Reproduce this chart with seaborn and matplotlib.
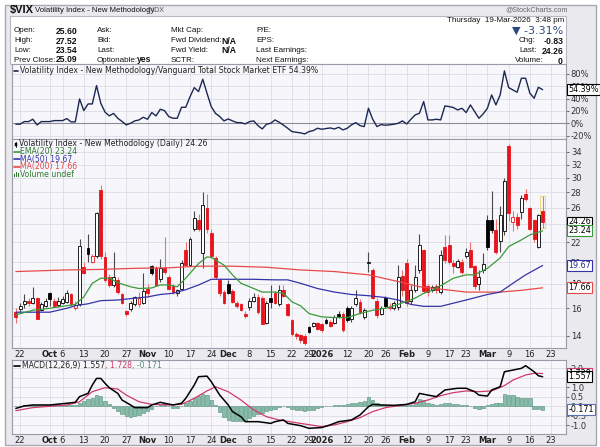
import numpy as np
import pandas as pd
import matplotlib
matplotlib.use("Agg")
import matplotlib.pyplot as plt
import seaborn as sns
from matplotlib.patches import Rectangle
from matplotlib.lines import Line2D

# ---------------- data ----------------
first_day = "2025-09-19"
holidays = ["2025-11-27", "2025-12-25", "2026-01-01", "2026-01-19", "2026-02-16"]

opens = [15.7, 15.95, 16.3, 16.6, 16.4, 16.8, 15.9, 16.2, 17.2, 16.6,
         16.25, 16.4, 16.5, 17.1, 16.0, 16.3, 19.5, 21.4, 20.0, 20.55,
         28.3, 20.5, 18.6, 17.9, 18.3, 17.1, 15.8, 15.95, 16.3, 16.3,
         16.4, 17.6, 19.6, 19.4, 18.4, 19.4, 18.6, 17.8, 17.2, 17.6,
         21.2, 19.7, 23.5, 24.5, 20.9, 25.9, 23.0, 20.4, 18.3, 17.3,
         18.0, 17.4, 16.4, 16.3, 15.55, 16.1, 16.6, 16.9, 16.8, 14.9,
         16.8, 17.2, 16.3, 17.5, 16.3, 15.1, 14.1, 14.05, 14.0, 14.6,
         14.7, 14.9, 14.8, 15.1, 15.0, 14.9, 15.6, 15.6, 16.0, 15.2,
         16.3, 16.5, 15.35, 19.9, 19.25, 16.6, 15.6, 16.85, 16.0, 16.0,
         16.1, 18.7, 19.9, 16.6, 17.5, 19.2, 21.2, 17.8, 17.45, 17.8,
         17.3, 21.5, 21.7, 19.9, 19.55, 20.0, 20.55, 21.2, 19.6, 18.0,
         19.2, 24.5, 24.5, 23.3, 22.1, 23.2, 35.0, 24.3, 24.9, 25.5,
         27.75, 25.9, 24.5, 21.5, 25.60]
highs = [16.0, 16.4, 17.1, 16.8, 17.7, 16.9, 16.5, 16.8, 17.3, 16.8,
         16.9, 17.0, 17.5, 17.2, 16.6, 22.4, 20.0, 22.9, 20.8, 25.4,
         29.0, 21.0, 18.9, 21.0, 18.6, 17.2, 15.9, 16.6, 17.0, 17.3,
         19.0, 18.0, 19.7, 19.6, 20.3, 22.6, 18.8, 18.0, 17.6, 20.2,
         22.0, 22.6, 25.6, 25.2, 28.1, 27.7, 23.5, 20.6, 18.5, 17.5,
         18.3, 17.6, 16.6, 16.4, 15.8, 16.8, 17.2, 17.1, 17.0, 16.6,
         17.9, 17.4, 17.9, 17.9, 16.4, 15.2, 14.3, 14.1, 14.1, 14.7,
         15.0, 15.0, 14.9, 15.3, 15.1, 15.5, 15.8, 15.7, 16.2, 16.2,
         17.5, 16.7, 16.0, 21.0, 19.4, 16.8, 16.2, 17.0, 16.4, 16.6,
         19.7, 19.2, 20.3, 17.9, 19.7, 22.9, 21.3, 18.0, 17.9, 18.0,
         21.2, 22.8, 22.8, 20.2, 20.3, 20.3, 21.4, 22.0, 19.7, 19.2,
         20.9, 25.1, 28.2, 24.6, 26.2, 30.0, 35.3, 25.6, 25.3, 27.6,
         28.5, 26.1, 24.6, 25.2, 27.52]
lows = [14.9, 15.7, 16.0, 16.2, 16.3, 15.2, 15.8, 16.1, 16.2, 16.1,
        16.1, 16.3, 16.4, 16.2, 15.9, 16.2, 18.9, 20.0, 19.9, 20.4,
        20.3, 18.2, 17.7, 17.7, 17.1, 16.3, 15.4, 15.8, 16.2, 16.1,
        16.3, 16.9, 18.8, 17.8, 18.2, 18.9, 17.5, 17.1, 17.0, 17.5,
        19.6, 19.6, 23.2, 23.2, 19.4, 23.0, 20.4, 18.4, 17.0, 16.3,
        17.1, 16.4, 16.0, 15.8, 15.3, 15.9, 16.5, 15.6, 14.8, 14.8,
        16.0, 16.3, 16.2, 16.9, 15.4, 14.0, 13.8, 13.5, 13.4, 14.2,
        14.6, 14.4, 14.3, 14.8, 14.6, 14.8, 15.3, 14.3, 15.0, 15.0,
        16.2, 15.6, 15.2, 19.1, 16.7, 15.3, 15.5, 16.0, 15.9, 15.9,
        15.9, 17.0, 16.2, 16.3, 17.3, 19.0, 17.2, 17.0, 17.3, 17.2,
        17.1, 19.9, 19.8, 19.0, 19.4, 18.9, 20.4, 19.4, 17.6, 17.5,
        19.0, 21.2, 23.0, 20.8, 21.0, 22.8, 24.4, 23.2, 23.5, 24.6,
        26.9, 23.3, 22.0, 21.4, 23.54]
closes = [15.35, 16.2, 16.6, 16.4, 16.8, 15.2, 16.3, 16.6, 16.7, 16.2,
          16.55, 16.7, 17.2, 16.3, 16.25, 21.6, 19.0, 20.8, 20.6, 25.3,
          20.6, 18.3, 17.9, 18.6, 17.3, 16.4, 15.6, 16.4, 16.9, 16.8,
          17.4, 17.2, 19.0, 17.9, 19.4, 19.1, 17.6, 17.3, 17.45, 19.9,
          19.7, 22.4, 24.7, 23.5, 26.3, 23.4, 20.6, 18.6, 17.2, 16.4,
          17.2, 16.5, 16.2, 15.9, 15.4, 16.6, 16.9, 15.7, 14.85, 16.4,
          16.5, 16.4, 17.5, 17.0, 15.5, 14.1, 14.0, 13.7, 13.5, 14.3,
          14.9, 14.5, 14.4, 14.9, 14.7, 15.35, 15.4, 14.4, 15.1, 16.0,
          16.8, 15.7, 15.85, 20.0, 16.8, 15.5, 16.0, 16.15, 16.1, 16.4,
          18.6, 17.5, 16.4, 17.5, 18.6, 21.7, 17.4, 17.3, 17.7, 17.5,
          20.7, 20.2, 20.0, 19.6, 20.05, 19.1, 21.0, 19.55, 17.8, 18.6,
          19.8, 21.5, 23.3, 21.0, 25.1, 29.5, 25.3, 24.9, 23.95, 27.2,
          27.1, 23.5, 22.3, 25.09, 24.26]
prev_close_first = 15.45

ratio_pct = [-1.5, -1.5, 2.7, 2.7, 6.5, -2.7, 2.7, 2.7, 2.7, 4.3,
             4.3, 4.3, 7.6, 2.2, 2.2, 39.4, 20.5, 31.3, 31.3, 61.0,
             32.4, 18.0, 12.0, 16.0, 8.0, 3.0, -2.7, 0.0, 3.8, 5.4,
             9.7, 6.5, 17.3, 11.9, 22.7, 20.5, 10.8, 8.1, 8.1, 25.9,
             25.9, 43.0, 57.8, 51.3, 71.3, 48.6, 27.0, 16.0, 10.8, 3.8,
             7.0, 3.8, 1.1, 1.0, -1.1, 2.7, 3.8, -3.8, -9.2, -1.6,
             0.0, 5.4, 1.6, -3.0, -8.1, -13.5, -14.6, -15.5, -17.3, -13.5,
             -11.9, -8.1, -9.7, -8.6, -7.6, -9.2, -6.5, -10.8, -8.1, -2.7,
             1.1, -3.8, -5.4, 24.3, 6.5, -5.4, -2.2, -3.2, -2.5, -1.6,
             0.0, 3.8, -1.1, 6.5, 13.5, 16.2, 35.1, 5.4, 5.4, 6.5,
             5.4, 28.1, 27.0, 25.4, 21.6, 24.3, 17.3, 29.7, 18.9, 8.1,
             15.1, 24.3, 45.9, 29.7, 45.9, 84.8, 57.8, 54.0, 50.2, 72.9,
             72.9, 48.6, 40.5, 58.3, 54.39]

ema20_idx = [0, 4, 8, 12, 14, 16, 18, 20, 22, 24, 27, 29, 32, 34, 36, 38, 40, 43, 45,
             46, 49, 51, 53, 56, 58, 61, 63, 65, 67, 69, 72, 75, 78, 81, 84, 87, 90,
             94, 96, 98, 101, 103, 106, 108, 111, 114, 116, 119, 121, 123, 124]
ema20_val = [15.5, 15.85, 16.0, 16.2, 16.3, 16.9, 18.05, 18.5, 18.5, 18.1, 17.75, 17.6,
             17.65, 17.9, 17.9, 17.75, 18.5, 19.85, 20.5, 20.45, 19.7, 18.8, 18.05, 17.6,
             17.3, 17.3, 17.2, 16.5, 16.2, 15.6, 15.35, 15.3, 15.3, 15.6, 15.85, 16.0,
             16.3, 16.8, 17.2, 17.45, 18.05, 18.5, 18.8, 18.8, 19.4, 20.4, 21.55, 22.25,
             22.8, 23.1, 23.24]
ma50_idx = [0, 4, 8, 12, 14, 17, 20, 24, 28, 31, 34, 37, 40, 43, 46, 51, 56, 61, 64,
            67, 71, 75, 79, 83, 87, 90, 93, 96, 100, 103, 106, 111, 114, 117, 120, 124]
ma50_val = [15.7, 15.7, 15.7, 16.0, 16.2, 16.35, 16.6, 16.65, 16.8, 16.9, 17.1, 17.2,
            17.5, 17.9, 18.4, 18.4, 18.4, 18.35, 18.35, 18.05, 17.6, 17.3, 17.1, 17.0,
            16.85, 16.65, 16.3, 16.15, 16.15, 16.4, 16.65, 17.1, 17.3, 18.05, 18.8, 19.67]
ma200_idx = [0, 4, 12, 20, 28, 36, 43, 51, 59, 67, 75, 83, 90, 95, 100, 106, 111, 114, 119, 124]
ma200_val = [19.1, 19.15, 19.25, 19.3, 19.4, 19.45, 19.6, 19.6, 19.5, 19.25, 19.1, 18.8,
             18.2, 17.75, 17.55, 17.3, 17.3, 17.3, 17.45, 17.66]

macd_idx = [0, 2, 4, 8, 12, 14, 15, 17, 18, 19, 20, 21, 22, 24, 25, 27, 28, 31, 32, 34,
            35, 37, 39, 40, 42, 43, 45, 46, 48, 50, 51, 53, 54, 57, 58, 60, 61, 63, 64,
            67, 69, 72, 74, 76, 79, 81, 83, 84, 86, 89, 92, 94, 95, 97, 99, 101, 104,
            106, 108, 109, 111, 112, 114, 115, 117, 119, 120, 122, 123, 124]
macd_val = [-0.11, 0.02, 0.07, 0.07, 0.16, 0.21, 0.51, 0.68, 1.12, 1.47, 1.47, 1.21,
            0.98, 0.68, 0.33, 0.07, -0.07, -0.07, 0.07, 0.21, 0.16, 0.07, 0.16, 0.42,
            1.12, 1.56, 1.59, 1.3, 0.59, 0.07, -0.28, -0.55, -0.81, -0.81, -0.84, -0.9,
            -0.81, -0.72, -0.9, -1.02, -1.16, -1.12, -0.98, -0.81, -0.72, -0.46, -0.02,
            0.1, 0.07, 0.05, 0.1, 0.24, 0.68, 0.59, 0.51, 0.86, 0.95, 0.95, 0.77, 0.59,
            0.54, 0.86, 1.03, 1.82, 1.91, 2.0, 2.14, 1.82, 1.61, 1.557]
signal_idx = [0, 4, 12, 15, 18, 21, 24, 26, 29, 32, 36, 39, 42, 45, 47, 50, 53, 56, 59,
              62, 67, 72, 75, 78, 81, 84, 87, 90, 94, 97, 100, 103, 106, 109, 112, 115,
              117, 120, 122, 124]
signal_val = [-0.23, -0.07, 0.07, 0.24, 0.77, 0.98, 0.91, 0.59, 0.24, 0.1, 0.07, 0.1,
              0.42, 0.81, 1.03, 0.77, 0.33, -0.19, -0.55, -0.72, -0.9, -1.07, -0.98,
              -0.81, -0.6, -0.28, -0.07, 0.03, 0.16, 0.33, 0.56, 0.72, 0.81, 0.77, 0.81,
              1.09, 1.38, 1.65, 1.74, 1.728]
hist_val = [0.03, 0.04, 0.06, 0.07, 0.08, 0.05, 0.06, 0.07, 0.08, 0.08,
            0.07, 0.08, 0.09, 0.07, 0.06, 0.2, 0.3, 0.4, 0.45, 0.62,
            0.55, 0.3, 0.12, -0.1, -0.25, -0.38, -0.5, -0.55, -0.52, -0.45,
            -0.35, -0.25, -0.12, 0.02, 0.08, 0.1, 0.0, -0.08, -0.1, 0.02,
            0.15, 0.3, 0.45, 0.55, 0.65, 0.6, 0.35, 0.05, -0.3, -0.55,
            -0.7, -0.78, -0.8, -0.78, -0.72, -0.6, -0.5, -0.4, -0.35, -0.25,
            -0.18, -0.12, -0.05, 0.02, -0.05, -0.12, -0.18, -0.2, -0.25, -0.22,
            -0.18, -0.1, -0.02, 0.02, 0.04, 0.06, 0.08, 0.08, 0.1, 0.15,
            0.2, 0.22, 0.3, 0.48, 0.35, 0.15, 0.08, 0.08, 0.06, 0.06,
            0.08, 0.12, 0.08, 0.06, 0.15, 0.38, 0.32, 0.18, 0.12, 0.08,
            0.14, 0.18, 0.16, 0.12, 0.1, 0.06, 0.08, 0.02, -0.1, -0.15,
            -0.08, 0.05, 0.12, 0.2, 0.2, 0.65, 0.62, 0.58, 0.5, 0.45,
            0.45, 0.42, -0.12, -0.15, -0.171]

tick_dates = ["2025-09-22", "2025-10-01", "2025-10-06", "2025-10-13", "2025-10-20",
              "2025-10-27", "2025-11-03", "2025-11-10", "2025-11-17", "2025-11-24",
              "2025-12-01", "2025-12-08", "2025-12-15", "2025-12-22", "2025-12-29",
              "2026-01-02", "2026-01-12", "2026-01-20", "2026-01-26", "2026-02-02",
              "2026-02-09", "2026-02-17", "2026-02-23", "2026-03-02", "2026-03-09",
              "2026-03-16", "2026-03-23"]
tick_labels = ["22", "Oct", "6", "13", "20", "27", "Nov", "10", "17", "24", "Dec", "8",
               "15", "22", "29", "2026", "12", "20", "26", "Feb", "9", "17", "23", "Mar",
               "9", "16", "23"]
bold_labels = {"Oct", "Nov", "Dec", "2026", "Feb", "Mar"}

price_ticks = [14, 16, 18, 20, 22, 24, 26, 28, 30, 32, 34]
price_tick_labels = ["14", "16", "18", "20", "22", "", "26", "28", "30", "32", "34"]
ratio_ticks = [-20, 0, 20, 40, 60, 80]
macd_ticks = [-1.0, -0.5, 0.0, 0.5, 1.0, 1.5, 2.0]
macd_tick_labels = ["-1.0", "-0.5", "0.0", "0.5", "1.0", "", "2.0"]

# ---------------- style ----------------
sns.set_theme(style="white")
plt.rcParams["font.family"] = ["DejaVu Sans"]

W, H = 600, 447
RED = "#e8141b"
GREEN = "#3a9a3a"
BLUE = "#3434a8"
MARED = "#e84848"
PANEL = "#f7f7fb"
GRID = "#dcdce6"
SPINE = "#9a9aa8"

fig = plt.figure(figsize=(W / 100, H / 100), dpi=100)
fig.patch.set_facecolor("white")


def fx(x):
    return x / W


def fy(y):
    return 1 - y / H


fig.add_artist(Rectangle((fx(5), fy(445)), fx(591), 440 / H, transform=fig.transFigure,
                         facecolor="#e9e9ee", edgecolor="#a8a8b2", lw=1.0, zorder=-10))
fig.add_artist(Rectangle((fx(10), fy(64)), fx(556), 48 / H, transform=fig.transFigure,
                         facecolor="white", edgecolor="#b8b8c2", lw=0.8, zorder=-5))


def ftext(x, y, s, **kw):
    kw.setdefault("va", "center")
    kw.setdefault("fontsize", 5.8)
    kw.setdefault("color", "#111111")
    return fig.text(fx(x), fy(y), s, **kw)


HF = ["Liberation Sans", "DejaVu Sans"]
ftext(10, 10, "$VIX", fontsize=8, fontweight="bold", family=HF)
ftext(35, 10, "Volatility Index - New Methodology", fontsize=5.6, family=HF)
ftext(147, 10.5, "INDX", fontsize=5.0, color="#555555", family=HF)
ftext(568, 10, "@StockCharts.com", fontsize=5.2, color="#666666", ha="right", family=HF)

rows = [31, 41, 50.5, 60]
for y, lab, val in zip(rows, ["Open:", "High:", "Low:", "Prev Close:"],
                       ["25.60", "27.52", "23.54", "25.09"]):
    ftext(14, y, lab, family=HF, fontsize=5.8)
    ftext(77, y, val, family=HF, fontsize=6.2, fontweight="bold", ha="right")
for y, lab in zip(rows, ["Ask:", "Bid:", "Last:", "Optionable:"]):
    ftext(97, y, lab, family=HF, fontsize=5.8)
ftext(151, rows[3], "yes", family=HF, fontsize=6.2, fontweight="bold", ha="right")
for y, lab in zip(rows, ["Mkt Cap:", "Fwd Dividend:", "Fwd Yield:", "SCTR:"]):
    ftext(171, y, lab, family=HF, fontsize=5.8)
ftext(236, rows[1], "N/A", family=HF, fontsize=6.2, fontweight="bold", ha="right")
ftext(236, rows[2], "N/A", family=HF, fontsize=6.2, fontweight="bold", ha="right")
for y, lab in zip(rows, ["P/E:", "EPS:", "Last Earnings:", "Next Earnings:"]):
    ftext(256, y, lab, family=HF, fontsize=5.8)
ftext(564, 20, "Thursday  19-Mar-2026  3:48 pm", family=HF, fontsize=5.8, ha="right")
ftext(563, 30.5, "\u25bc -3.31%", fontsize=8, color="#2e4a7c", ha="right",
      family=["DejaVu Sans"])
for y, lab, val, lx in zip([41, 51, 61], ["Chg:", "Last:", "Volume:"],
                           ["-0.83", "24.26", "0"], [519, 519, 515]):
    ftext(lx, y, lab, family=HF, fontsize=5.8)
    ftext(563, y, val, family=HF, fontsize=6.2, fontweight="bold", ha="right")

# ---------------- axes ----------------
ax_r = fig.add_axes([fx(12), fy(139), fx(554), 75 / H])
ax_p = fig.add_axes([fx(12), fy(348), fx(554), 209 / H])
ax_m = fig.add_axes([fx(12), fy(434), fx(554), 74 / H])

cal = pd.bdate_range(first_day, "2026-03-31")
cal = cal[~cal.isin(pd.to_datetime(holidays))]
pos = {d: i for i, d in enumerate(cal)}
tick_pos = [pos[pd.Timestamp(d)] for d in tick_dates]
n = len(closes)
idx = np.arange(n)

for ax in (ax_r, ax_p, ax_m):
    ax.set_facecolor(PANEL)
    for s in ax.spines.values():
        s.set_color(SPINE)
        s.set_linewidth(0.8)
    ax.set_xlim(-0.9, 129.5)
    ax.set_xticks(tick_pos)
    ax.grid(True, color=GRID, lw=0.6)
    ax.set_axisbelow(True)
    ax.yaxis.tick_right()
    ax.tick_params(axis="y", which="both", labelsize=6, colors="#333333", length=2,
                   width=0.5, pad=1.5, left=False, labelleft=False, right=True,
                   labelright=True)
    ax.tick_params(axis="x", length=0, pad=1.5, labelsize=6, colors="#222222")

ax_r.set_xticklabels([])
for ax in (ax_p, ax_m):
    ax.set_xticklabels(tick_labels)
    for t in ax.get_xticklabels():
        if t.get_text() in bold_labels:
            t.set_fontweight("bold")

# ratio panel
sns.lineplot(x=idx, y=ratio_pct, ax=ax_r, color="#1c2852", lw=1.0)
ax_r.axhline(0, color="#8c8c96", lw=0.8, zorder=1)
ax_r.set_ylim(-25.5, 96)
ax_r.set_yticks(ratio_ticks)
ax_r.set_yticklabels([f"{v}%" for v in ratio_ticks])
ax_r.set_xlabel("")
ax_r.set_ylabel("")

# price panel
ax_p.set_yscale("log")
ax_p.set_ylim(13.21, 36.2)
ax_p.set_yticks(price_ticks)
ax_p.set_yticklabels(price_tick_labels)
ax_p.yaxis.set_minor_locator(matplotlib.ticker.NullLocator())

prevs = [prev_close_first] + closes[:-1]
faces, edges, wicks, bots, hts = [], [], [], [], []
for o, c, p in zip(opens, closes, prevs):
    col = "black" if c >= p else RED
    faces.append("white" if c > o else col)
    edges.append(col)
    wicks.append("#4a4a4a" if c >= p else "#f07070")
    lo, hi = min(o, c), max(o, c)
    if hi / lo < 1.004:
        hi = lo * 1.004
    bots.append(lo)
    hts.append(hi - lo)
ax_p.vlines(idx, lows, highs, colors=wicks, lw=0.8, zorder=3)
# thin yellow outline marking the latest session
ax_p.bar([idx[-1]], [highs[-1] - lows[-1]], bottom=[lows[-1]], width=1.1,
         color="none", edgecolor="#f2d060", linewidth=0.6, zorder=2.5)
ax_p.bar(idx, hts, bottom=bots, width=0.68, color=faces, edgecolor=edges,
         linewidth=0.6, zorder=4)

sns.lineplot(x=ma200_idx, y=ma200_val, ax=ax_p, color=MARED, lw=0.9, zorder=5)
sns.lineplot(x=ma50_idx, y=ma50_val, ax=ax_p, color=BLUE, lw=0.9, zorder=5)
sns.lineplot(x=ema20_idx, y=ema20_val, ax=ax_p, color=GREEN, lw=0.9, zorder=5)
ax_p.set_xlabel("")
ax_p.set_ylabel("")

# MACD panel
ax_m.bar(idx, hist_val, width=0.78, color="#86bca8", edgecolor="#4f8c76", linewidth=0.4,
         zorder=2)
sns.lineplot(x=signal_idx, y=signal_val, ax=ax_m, color="#d03a68", lw=0.9, zorder=3)
sns.lineplot(x=macd_idx, y=macd_val, ax=ax_m, color="black", lw=1.1, zorder=4)
ax_m.set_ylim(-1.46, 2.44)
ax_m.set_yticks(macd_ticks)
ax_m.set_yticklabels(macd_tick_labels)
ax_m.set_xlabel("")
ax_m.set_ylabel("")


# value tags on the right axis
def tag(ax, yv, s, ec, tc="black"):
    ax.text(1.004, yv, s, transform=ax.get_yaxis_transform(), ha="left", va="center",
            fontsize=5.8, color=tc, clip_on=False, zorder=10,
            bbox=dict(boxstyle="square,pad=0.12", fc="white", ec=ec, lw=0.8))


tag(ax_r, 54.39, "54.39%", "black")
tag(ax_p, 24.26, "24.26", "black")
tag(ax_p, 23.24, "23.24", GREEN)
tag(ax_p, 19.67, "19.67", BLUE, "#2a2a90")
tag(ax_p, 17.66, "17.66", MARED)
tag(ax_m, 1.728, "1.728", "#d03a68")
tag(ax_m, 1.557, "1.557", "black")
tag(ax_m, -0.171, "-0.171", "#5a70b0")

# legends
LF = 5.6
fig.add_artist(Line2D([fx(14), fx(18)], [fy(70.5)] * 2, color="#1c2852", lw=1.2))
ftext(20, 70.5, "Volatility Index - New Methodology/Vanguard Total Stock Market ETF 54.39%",
      fontsize=LF, color="#222222")

fig.add_artist(Line2D([fx(15.5), fx(15.5)], [fy(141.5), fy(146.5)], color="black", lw=0.6))
fig.add_artist(Rectangle((fx(14.5), fy(145.5)), fx(2), 3 / H, transform=fig.transFigure,
                         facecolor="black", edgecolor="black", lw=0.3))
ftext(19, 144, "Volatility Index - New Methodology (Daily) 24.26", fontsize=LF,
      color="#222222")
for y, col, s in [(151.7, GREEN, "EMA(20) 23.24"), (159.3, BLUE, "MA(50) 19.67"),
                  (167.0, MARED, "MA(200) 17.66")]:
    fig.add_artist(Line2D([fx(14), fx(19.5)], [fy(y)] * 2, color=col, lw=1.2))
    ftext(20.5, y, s, fontsize=LF, color=col if col != GREEN else "#2e7a2e")
for k, hgt in enumerate([3, 5, 4]):
    fig.add_artist(Rectangle((fx(14 + 1.8 * k), fy(177)), fx(1.3), hgt / H,
                             transform=fig.transFigure, facecolor="#2e7a2e", lw=0))
ftext(20.5, 174.7, "Volume undef", fontsize=LF, color="#2e7a2e")

fig.add_artist(Line2D([fx(14), fx(20)], [fy(365.5)] * 2, color="black", lw=1.2))
t1 = ftext(22, 365.5, "MACD(12,26,9) 1.557", fontsize=LF, color="#222222")
fig.canvas.draw()
r = fig.canvas.get_renderer()
bb = t1.get_window_extent(r)
t2 = fig.text(bb.x1 / W, fy(365.5), ", 1.728", fontsize=LF, color="#d03a68", va="center")
bb2 = t2.get_window_extent(r)
fig.text(bb2.x1 / W, fy(365.5), ", -0.171", fontsize=LF, color="#4f8c76", va="center")

fig.savefig("out.png", dpi=100, facecolor=fig.get_facecolor())
